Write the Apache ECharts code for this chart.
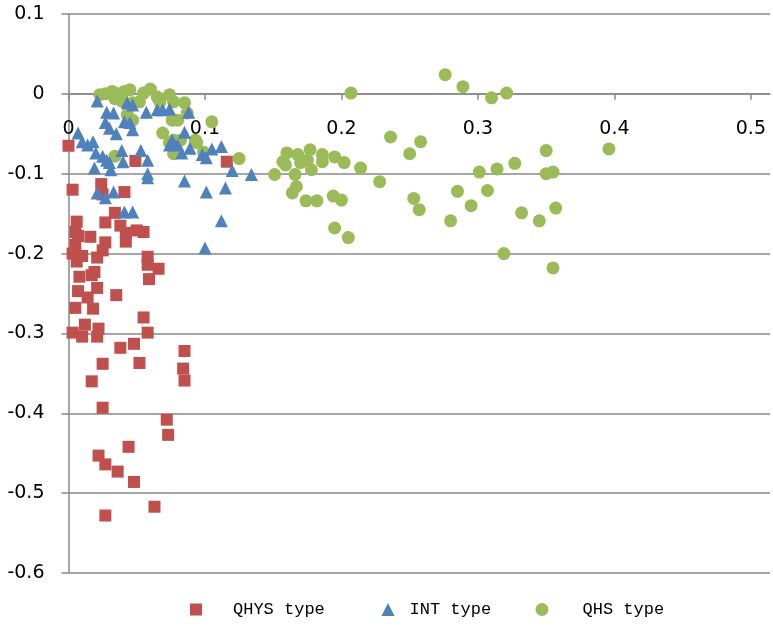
<!DOCTYPE html>
<html>
<head>
<meta charset="utf-8">
<script src="https://cdn.jsdelivr.net/npm/echarts@6/dist/echarts.min.js"></script>
<style>html,body{margin:0;padding:0;background:#fff}#c{width:773px;height:628px}</style>
</head>
<body>
<div id="c"></div>
<script>
const seriesNames = ['QHYS type', 'INT type', 'QHS type'];
const xTickLabels = [0, 0.1, 0.2, 0.3, 0.4, 0.5];

const qhysType = [
  [0.000,-0.065],[0.003,-0.120],[0.024,-0.113],[0.025,-0.126],[0.041,-0.123],[0.049,-0.084],[0.116,-0.085],
  [0.006,-0.160],[0.005,-0.173],[0.027,-0.161],[0.034,-0.149],[0.038,-0.165],[0.042,-0.174],[0.050,-0.171],
  [0.055,-0.173],[0.007,-0.178],[0.016,-0.179],[0.027,-0.186],[0.042,-0.185],[0.005,-0.189],[0.025,-0.196],
  [0.003,-0.200],[0.010,-0.203],[0.021,-0.205],[0.006,-0.210],[0.058,-0.204],[0.058,-0.214],[0.066,-0.219],
  [0.059,-0.232],[0.008,-0.229],[0.017,-0.227],[0.019,-0.223],[0.007,-0.247],[0.021,-0.243],[0.014,-0.255],
  [0.035,-0.252],[0.005,-0.268],[0.018,-0.269],[0.055,-0.280],[0.012,-0.289],[0.003,-0.299],[0.010,-0.304],
  [0.022,-0.294],[0.021,-0.304],[0.058,-0.299],[0.038,-0.318],[0.048,-0.313],[0.085,-0.322],[0.025,-0.338],
  [0.052,-0.337],[0.084,-0.344],[0.085,-0.359],[0.017,-0.360],[0.025,-0.393],[0.072,-0.408],[0.073,-0.427],
  [0.044,-0.442],[0.022,-0.453],[0.027,-0.464],[0.036,-0.473],[0.048,-0.486],[0.063,-0.517],[0.027,-0.528]
];

const intType = [
  [0.021,-0.009],[0.028,-0.023],[0.033,-0.024],[0.027,-0.036],[0.030,-0.043],[0.035,-0.050],[0.043,-0.011],
  [0.047,-0.014],[0.041,-0.035],[0.045,-0.036],[0.047,-0.045],[0.057,-0.023],[0.065,-0.020],[0.069,-0.020],
  [0.074,-0.019],[0.088,-0.023],[0.007,-0.049],[0.010,-0.060],[0.014,-0.064],[0.018,-0.060],[0.020,-0.074],
  [0.025,-0.078],[0.028,-0.083],[0.030,-0.086],[0.039,-0.071],[0.040,-0.085],[0.019,-0.093],[0.031,-0.095],
  [0.053,-0.071],[0.058,-0.083],[0.058,-0.100],[0.058,-0.105],[0.085,-0.048],[0.076,-0.058],[0.074,-0.064],
  [0.080,-0.064],[0.083,-0.074],[0.089,-0.068],[0.098,-0.076],[0.101,-0.080],[0.105,-0.069],[0.112,-0.066],
  [0.120,-0.096],[0.134,-0.101],[0.085,-0.109],[0.101,-0.123],[0.115,-0.118],[0.112,-0.159],[0.100,-0.193],
  [0.021,-0.124],[0.027,-0.130],[0.033,-0.123],[0.041,-0.148],[0.047,-0.148]
];

const qhsType = [
  [0.023,-0.001],[0.027,0.000],[0.032,0.003],[0.036,0.000],[0.041,0.003],[0.045,0.005],[0.034,-0.006],
  [0.039,-0.009],[0.047,-0.011],[0.052,-0.010],[0.055,0.001],[0.060,0.006],[0.065,-0.004],[0.067,-0.010],
  [0.074,-0.001],[0.077,-0.010],[0.085,-0.011],[0.087,-0.024],[0.043,-0.026],[0.047,-0.033],[0.076,-0.033],
  [0.080,-0.033],[0.069,-0.049],[0.074,-0.061],[0.077,-0.058],[0.082,-0.058],[0.077,-0.075],[0.093,-0.058],
  [0.094,-0.061],[0.099,-0.073],[0.105,-0.035],[0.034,-0.078],[0.125,-0.081],
  [0.151,-0.101],[0.160,-0.074],[0.157,-0.085],[0.159,-0.089],[0.168,-0.076],[0.170,-0.086],[0.177,-0.070],
  [0.175,-0.083],[0.178,-0.095],[0.166,-0.101],[0.167,-0.116],[0.164,-0.124],[0.174,-0.134],[0.182,-0.134],
  [0.186,-0.085],[0.186,-0.076],[0.195,-0.079],[0.202,-0.086],[0.214,-0.093],[0.194,-0.128],[0.200,-0.133],
  [0.228,-0.110],[0.236,-0.054],[0.195,-0.168],[0.205,-0.180],[0.207,0.001],
  [0.276,0.024],[0.289,0.009],[0.310,-0.005],[0.321,0.001],[0.258,-0.060],[0.250,-0.075],[0.253,-0.131],
  [0.257,-0.145],[0.280,-0.159],[0.285,-0.122],[0.295,-0.140],[0.301,-0.098],[0.307,-0.121],[0.314,-0.094],
  [0.327,-0.087],[0.319,-0.200],[0.332,-0.149],[0.345,-0.159],[0.350,-0.071],[0.350,-0.100],[0.355,-0.098],
  [0.357,-0.143],[0.355,-0.218],[0.396,-0.069]
];

const chart = echarts.init(document.getElementById('c'), null, {renderer: 'canvas'});
const lineColor = '#888888';
const axisFont = {fontFamily: 'DejaVu Sans', fontSize: 19, color: '#000'};
const legendFont = {fontFamily: 'Liberation Mono', fontSize: 17, color: '#000'};

const yMin = -0.6, yMax = 0.1;
const plotTop = 14, plotBottom = 55, plotH = 628 - plotTop - plotBottom;
// distance from the bottom edge of the plot up to the value 0 on the y axis
const zeroLift = plotH * (0 - yMin) / (yMax - yMin);

function legendAt(name, icon, left, size, pad) {
  return {
    data: [{name: name, icon: icon}],
    left: left, top: 601, padding: 0, itemWidth: size, itemHeight: size,
    textStyle: Object.assign({padding: [0, 0, 0, pad]}, legendFont),
    selectedMode: false
  };
}

chart.setOption({
  animation: false,
  backgroundColor: '#fff',
  grid: {left: 68.5, right: 3, top: plotTop, bottom: plotBottom, containLabel: false},
  legend: [
    legendAt(seriesNames[0], 'rect', 190, 12, 26),
    legendAt(seriesNames[1], 'triangle', 381.5, 13, 10),
    legendAt(seriesNames[2], 'circle', 535.5, 13, 29)
  ],
  xAxis: {
    type: 'value', min: 0, max: 0.514, interval: 0.1, position: 'bottom', offset: -zeroLift,
    axisLine: {show: true, onZero: false, lineStyle: {color: lineColor, width: 1.5}},
    axisTick: {show: true, length: 6, customValues: xTickLabels, lineStyle: {color: lineColor, width: 1.5}},
    axisLabel: Object.assign({margin: 26, customValues: xTickLabels, formatter: v => String(v)}, axisFont),
    splitLine: {show: false}
  },
  yAxis: {
    type: 'value', min: yMin, max: yMax, interval: 0.1,
    axisLine: {show: true, onZero: false, lineStyle: {color: lineColor, width: 1.5}},
    axisTick: {show: true, length: 7, lineStyle: {color: lineColor, width: 1.5}},
    axisLabel: Object.assign({margin: 24, formatter: v => String(Math.round(v * 10) / 10)}, axisFont),
    splitLine: {show: true, lineStyle: {color: lineColor, width: 1.5}}
  },
  series: [
    {name: seriesNames[0], type: 'scatter', symbol: 'rect', symbolSize: 12, data: qhysType, z: 2,
     itemStyle: {color: '#C0504D', opacity: 1}},
    {name: seriesNames[1], type: 'scatter', symbol: 'triangle', symbolSize: 13, data: intType, z: 4,
     itemStyle: {color: '#4F81BD', opacity: 1}},
    {name: seriesNames[2], type: 'scatter', symbol: 'circle', symbolSize: 13, data: qhsType, z: 3,
     itemStyle: {color: '#9BBB59', opacity: 1}}
  ]
});
</script>
</body>
</html>
